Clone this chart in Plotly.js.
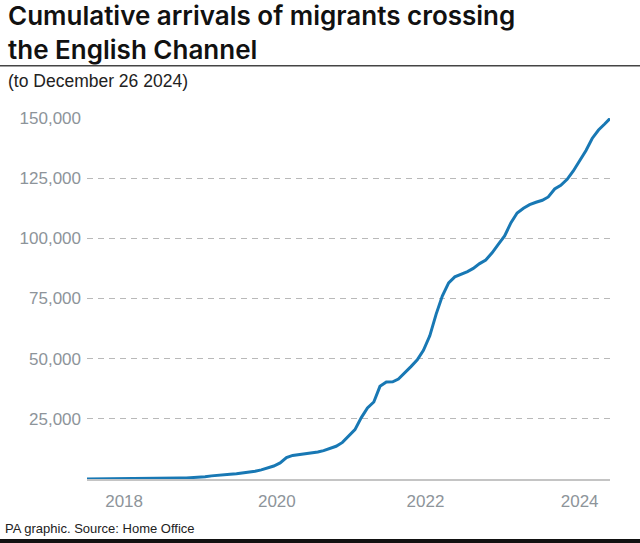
<!DOCTYPE html>
<html>
<head>
<meta charset="utf-8">
<script src="https://cdn.plot.ly/plotly-3.0.1.min.js"></script>
<style>html,body{margin:0;padding:0;background:#fff;}#chart{width:640px;height:543px;}</style>
</head>
<body>
<div id="chart"></div>
<script>
// Cumulative arrivals (end of each month)
const dates = [
  "2018-01-01",
  "2018-01-31","2018-02-28","2018-03-31","2018-04-30","2018-05-31","2018-06-30",
  "2018-07-31","2018-08-31","2018-09-30","2018-10-31","2018-11-30","2018-12-31",
  "2019-01-31","2019-02-28","2019-03-31","2019-04-30","2019-05-31","2019-06-30",
  "2019-07-31","2019-08-31","2019-09-30","2019-10-31","2019-11-30","2019-12-31",
  "2020-01-31","2020-02-29","2020-03-31","2020-04-30","2020-05-31","2020-06-30",
  "2020-07-31","2020-08-31","2020-09-30","2020-10-31","2020-11-30","2020-12-31",
  "2021-01-31","2021-02-28","2021-03-31","2021-04-30","2021-05-31","2021-06-30",
  "2021-07-31","2021-08-31","2021-09-30","2021-10-31","2021-11-30","2021-12-31",
  "2022-01-31","2022-02-28","2022-03-31","2022-04-30","2022-05-31","2022-06-30",
  "2022-07-31","2022-08-31","2022-09-30","2022-10-31","2022-11-30","2022-12-31",
  "2023-01-31","2023-02-28","2023-03-31","2023-04-30","2023-05-31","2023-06-30",
  "2023-07-31","2023-08-31","2023-09-30","2023-10-31","2023-11-30","2023-12-31",
  "2024-01-31","2024-02-29","2024-03-31","2024-04-30","2024-05-31","2024-06-30",
  "2024-07-31","2024-08-31","2024-09-30","2024-10-31","2024-11-30","2024-12-26"
];
const arrivals = [
  0,
  10, 20, 35, 50, 60, 70, 85, 110, 150, 200, 250, 300,
  330, 360, 400, 450, 550, 700, 900, 1300, 1600, 1800, 1950, 2150,
  2400, 2700, 3200, 3800, 4600, 5400, 6700, 8900, 9800, 10200, 10500, 10700,
  11200, 11800, 12700, 13600, 15200, 17800, 20500, 25500, 29500, 32000, 38500, 40300,
  40400, 41500, 44000, 46700, 49500, 53500, 59500, 68500, 76000, 81500, 84000, 85000,
  86200, 87500, 89500, 91000, 94000, 97500, 101000, 106500, 110500, 112500, 114000, 115000,
  115800, 117200, 120500, 122000, 124500, 128000, 132000, 136500, 141500, 145000, 147500, 149800
];
const yTickVals = [25000, 50000, 75000, 100000, 125000, 150000];
const yTickText = ["25,000", "50,000", "75,000", "100,000", "125,000", "150,000"];
const xTickVals = ["2018-07-01", "2020-07-15", "2022-07-10", "2024-07-31"];
const xTickText = ["2018", "2020", "2022", "2024"];

const titleText = "Cumulative arrivals of migrants crossing<br>the English Channel";
const subtitle = "(to December 26 2024)";
const footer = "PA graphic. Source: Home Office";

const tickFont = {family: "Liberation Sans, Arial, sans-serif", size: 17, color: "#8d949a"};
const titleFont = {family: "Inter, Liberation Sans, sans-serif", size: 26, color: "#111111", weight: 600};

const trace = {
  x: dates, y: arrivals, type: "scatter", mode: "lines",
  line: {color: "#1878b4", width: 3}, hoverinfo: "skip"
};

const layout = {
  width: 640, height: 543,
  margin: {l: 87, r: 30, t: 118, b: 64},
  paper_bgcolor: "#ffffff", plot_bgcolor: "#ffffff",
  showlegend: false,
  xaxis: {
    type: "date", range: ["2018-01-01", "2024-12-26"],
    tickvals: xTickVals, ticktext: xTickText,
    showgrid: false, zeroline: false,
    showline: true, linecolor: "#c4c4c4", linewidth: 2,
    ticks: "", tickfont: tickFont, ticklabelstandoff: 6
  },
  yaxis: {
    range: [0, 150000],
    tickvals: yTickVals, ticktext: yTickText,
    showgrid: true, gridcolor: "#b9b9b9", gridwidth: 1, griddash: "6px,5px",
    zeroline: false, showline: false,
    ticks: "", tickfont: tickFont, ticklabelstandoff: 5
  },
  shapes: [
    {type: "line", xref: "paper", yref: "paper", x0: -0.2, x1: 1.1, y0: (479-65.7)/361, y1: (479-65.7)/361,
     line: {color: "#444444", width: 1.5}},
    {type: "line", xref: "paper", yref: "paper", x0: -0.2, x1: 1.1, y0: (479-541)/361, y1: (479-541)/361,
     line: {color: "#111111", width: 4}}
  ],
  annotations: [
    {text: titleText, xref: "paper", yref: "paper", x: (6-87)/523, y: (479-32)/361,
     xanchor: "left", yanchor: "middle", align: "left", showarrow: false, font: titleFont},
    {text: subtitle, xref: "paper", yref: "paper", x: (6-87)/523, y: (479-81)/361,
     xanchor: "left", yanchor: "middle", showarrow: false,
     font: {family: "Liberation Sans, Arial, sans-serif", size: 17.5, color: "#222222"}},
    {text: footer, xref: "paper", yref: "paper", x: (3-87)/523, y: (479-528)/361,
     xanchor: "left", yanchor: "middle", showarrow: false,
     font: {family: "Liberation Sans, Arial, sans-serif", size: 13, color: "#222222"}}
  ]
};

Plotly.newPlot("chart", [trace], layout, {displayModeBar: false, staticPlot: true});
</script>
</body>
</html>
